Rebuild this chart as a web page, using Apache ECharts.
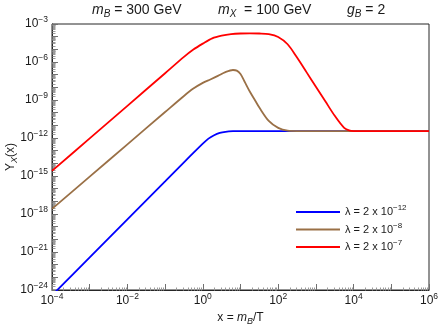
<!DOCTYPE html>
<html><head><meta charset="utf-8">
<script src="https://cdn.jsdelivr.net/npm/echarts@6/dist/echarts.min.js"></script>
<style>html,body{margin:0;padding:0;background:#fff}#c{width:440px;height:328px}</style>
</head><body><div id="c"></div>
<script>
// Values are log10 of the plotted quantities.
const seriesNames = ['λ = 2 x 10−12', 'λ = 2 x 10−8', 'λ = 2 x 10−7'];
const legendExps = ['−12', '−8', '−7'];
const seriesColors = ['#0000ff', '#9a7046', '#ff0000'];

const xBlue = [-4, -3, -2, -1, -0.5, 0, 0.15, 0.3, 0.45, 0.6, 0.8, 1, 2, 3, 4, 5, 6];
const yBlue = [-24.42, -21.42, -18.42, -15.42, -13.92, -12.45, -12.05, -11.78, -11.6, -11.51, -11.46, -11.45, -11.45, -11.45, -11.45, -11.45, -11.45];

const xBrown = [-4, -3, -2, -1, -0.5, -0.25, 0, 0.2, 0.4, 0.6, 0.8, 0.9, 1.0, 1.1, 1.25, 1.4, 1.5, 1.75, 2, 2.25, 2.5, 3, 4, 5, 6];
const yBrown = [-17.6, -15.05, -12.5, -9.95, -8.68, -8.1, -7.65, -7.38, -7.1, -6.8, -6.63, -6.68, -6.95, -7.5, -8.35, -9.1, -9.6, -10.65, -11.2, -11.42, -11.45, -11.45, -11.45, -11.45, -11.45];

const xRed = [-4, -3, -2, -1, -0.5, -0.25, 0, 0.25, 0.5, 0.75, 1, 1.25, 1.5, 1.75, 2, 2.25, 2.5, 2.75, 3, 3.25, 3.5, 3.75, 3.9, 4, 5, 6];
const yRed = [-14.6, -12.03, -9.46, -6.89, -5.6, -5.02, -4.55, -4.13, -3.92, -3.8, -3.75, -3.74, -3.75, -3.8, -4.02, -4.6, -5.65, -6.8, -7.95, -9.1, -10.25, -11.2, -11.42, -11.45, -11.45, -11.45];

const xRange = [-4, 6];   // decades of x
const yRange = [-24, -3]; // decades of Y
const xLabelStep = 2;
const yLabelStep = 3;

const FONT = 'Liberation Sans, Arial, sans-serif';
const TXT = '#1a1a1a';

function pairs(xs, ys) { return xs.map((x, i) => [x, ys[i]]); }
function expStr(v) { const n = Math.round(v); return (n < 0 ? '−' : '') + Math.abs(n); }

const minorX = [], minorY = [];
for (let d = xRange[0]; d < xRange[1]; d++) for (let k = 2; k <= 9; k++) minorX.push([d + Math.log10(k), yRange[0]]);
for (let d = yRange[0]; d < yRange[1]; d++) for (let k = 2; k <= 9; k++) minorY.push([xRange[0], d + Math.log10(k)]);

const labelRich = {
  b: { fontSize: 12, fontFamily: FONT, color: TXT, lineHeight: 18 },
  s: { fontSize: 8.5, fontFamily: FONT, color: TXT, lineHeight: 8, verticalAlign: 'top' }
};
const nameRich = {
  t: { fontSize: 12, fontFamily: FONT, color: TXT, lineHeight: 16 },
  i: { fontSize: 12, fontFamily: FONT, color: TXT, fontStyle: 'italic', lineHeight: 16 },
  sb: { fontSize: 9, fontFamily: FONT, color: TXT, fontStyle: 'italic', lineHeight: 10, verticalAlign: 'bottom' }
};
const titleRich = {
  t: { fontSize: 14, fontFamily: FONT, color: TXT, fontWeight: 'normal', lineHeight: 18 },
  i: { fontSize: 14, fontFamily: FONT, color: TXT, fontWeight: 'normal', fontStyle: 'italic', lineHeight: 18 },
  sb: { fontSize: 10, fontFamily: FONT, color: TXT, fontWeight: 'normal', fontStyle: 'italic', lineHeight: 11, verticalAlign: 'bottom' }
};
const titleStyle = { fontWeight: 'normal', fontSize: 14, fontFamily: FONT, rich: titleRich };

const chart = echarts.init(document.getElementById('c'), null, { renderer: 'canvas' });

function tickSeries(data, horizontal) {
  return {
    type: 'custom', silent: true, z: 1, clip: false, data: data,
    renderItem: function (params, api) {
      const p = api.coord([api.value(0), api.value(1)]);
      const x = Math.round(p[0]) + 0.5, y = Math.round(p[1]) + 0.5;
      const shape = horizontal ? { x1: x, y1: y, x2: x, y2: y - 3 } : { x1: x, y1: y, x2: x + 3, y2: y };
      return { type: 'line', shape: shape, style: { stroke: '#9a9a9a', lineWidth: 1 } };
    }
  };
}

function lineSeries(idx, xs, ys) {
  return {
    name: seriesNames[idx], type: 'line', data: pairs(xs, ys), symbol: 'none', showSymbol: false, smooth: 0.3,
    z: 5, lineStyle: { color: seriesColors[idx], width: 1.8 }, itemStyle: { color: seriesColors[idx] }
  };
}

chart.setOption({
  animation: false,
  backgroundColor: '#fff',
  title: [
    { text: '{i|m}{sb|B}{t| = 300 GeV}', left: 92, top: 1, padding: 0, textStyle: titleStyle },
    { text: '{i|m}{sb|X}{t|  = 100 GeV}', left: 218, top: 1, padding: 0, textStyle: titleStyle },
    { text: '{i|g}{sb|B}{t| = 2}', left: 347, top: 1, padding: 0, textStyle: titleStyle }
  ],
  grid: { left: 52, right: 11, top: 24, bottom: 38, containLabel: false, outerBoundsMode: 'none',
          show: true, borderColor: '#262626', borderWidth: 1, backgroundColor: 'transparent' },
  legend: {
    orient: 'vertical', left: 291, top: 199, itemWidth: 44, itemHeight: 2, itemGap: 4,
    icon: 'rect',
    data: seriesNames, selectedMode: false,
    formatter: function (name) {
      const i = seriesNames.indexOf(name);
      return '{n|λ = 2 x 10}{s|' + legendExps[i] + '}';
    },
    textStyle: {
      rich: {
        n: { fontSize: 11, fontFamily: FONT, color: TXT, lineHeight: 16 },
        s: { fontSize: 8, fontFamily: FONT, color: TXT, lineHeight: 7, verticalAlign: 'top' }
      }
    }
  },
  xAxis: {
    type: 'value', min: xRange[0], max: xRange[1], interval: 1,
    axisLine: { show: true, onZero: false, lineStyle: { color: '#262626', width: 1 } },
    axisTick: { show: true, inside: true, length: 6, lineStyle: { color: '#707070' } },
    splitLine: { show: false },
    axisLabel: {
      margin: 2,
      formatter: function (v) { return (Math.round(v) % xLabelStep === 0) ? '{b|10}{s|' + expStr(v) + '}' : ''; },
      rich: labelRich
    },
    name: '{t|x = }{i|m}{sb|B}{t|/T}', nameLocation: 'middle', nameGap: 20, nameMoveOverlap: false,
    nameTextStyle: { rich: nameRich }
  },
  yAxis: {
    type: 'value', min: yRange[0], max: yRange[1], interval: 1,
    axisLine: { show: true, onZero: false, lineStyle: { color: '#262626', width: 1 } },
    axisTick: { show: true, inside: true, length: 6, lineStyle: { color: '#707070' } },
    splitLine: { show: false },
    axisLabel: {
      margin: 4,
      formatter: function (v) { return (Math.round(v) % yLabelStep === 0) ? '{b|10}{s|' + expStr(v) + '}' : ''; },
      rich: labelRich
    },
    name: '{t|Y}{sb|X}{t|(x)}', nameLocation: 'middle', nameGap: 33, nameRotate: 90, nameMoveOverlap: false,
    nameTextStyle: { rich: nameRich }
  },
  series: [
    tickSeries(minorX, true),
    tickSeries(minorY, false),
    lineSeries(0, xBlue, yBlue),
    lineSeries(1, xBrown, yBrown),
    lineSeries(2, xRed, yRed)
  ]
});
</script></body></html>
